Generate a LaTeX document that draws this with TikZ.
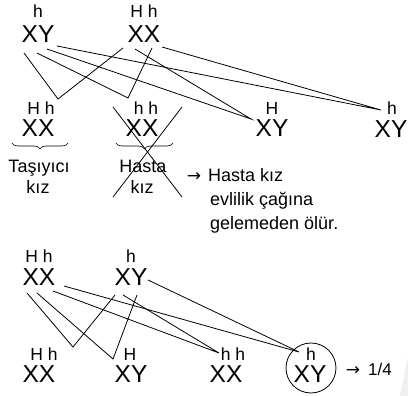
\documentclass[tikz,border=0pt]{standalone}
\usepackage{fontspec}
\setmainfont{Liberation Sans}
\newfontfamily\arrowfont{DejaVu Sans}
\usetikzlibrary{decorations.pathreplacing}
\begin{document}
\begin{tikzpicture}[x=1pt,y=-1pt,
  chrom/.style={anchor=base,inner sep=0pt,font=\fontsize{24.5}{24}\selectfont},
  gene/.style={anchor=base,inner sep=0pt,font=\fontsize{17.5}{17}\selectfont},
  lbl/.style={anchor=base,inner sep=0pt,font=\fontsize{18}{18}\selectfont},
  lblw/.style={anchor=base west,inner sep=0pt,font=\fontsize{18}{18}\selectfont},
  arr/.style={anchor=base,inner sep=0pt,font=\arrowfont\fontsize{17}{17}\selectfont},
  cross/.style={line width=0.8pt},
  link/.style={line width=0.8pt},
  bracestyle/.style={line width=0.6pt,decorate,decoration={brace,mirror,amplitude=6pt}}]
\useasboundingbox (0,0) rectangle (408,396);
\fill[black!6] (400,396) -- (408,356) -- (408,396) -- cycle;
% top parents
\node[gene] (g1) at (38,18) {h};
\node[chrom] (p1) at (38,43) {XY};
\node[gene] (g2) at (144,18) {H h};
\node[chrom] (p2) at (144,43) {XX};
% first offspring row
\node[gene] (g3) at (41,115) {H h};
\node[chrom] (c1) at (38,137) {XX};
\node[gene] (g4) at (146,115) {h h};
\node[chrom] (c2) at (142,137) {XX};
\node[gene] (g5) at (272,115) {H};
\node[chrom] (c3) at (272,137) {XY};
\node[gene] (g6) at (392,115) {h};
\node[chrom] (c4) at (391,138) {XY};
% labels
\node[lbl] (t1) at (39,173) {Taşıyıcı};
\node[lbl] (t2) at (38,194) {kız};
\node[lbl] (t3) at (143,173) {Hasta};
\node[lbl] (t4) at (142,194) {kız};
\draw[bracestyle] (12,143) -- (68,143);
\draw[bracestyle] (116,143) -- (173,143);
\coordinate (x1) at (113,107); \coordinate (x2) at (182,197);
\coordinate (x3) at (182,107); \coordinate (x4) at (113,197);
\draw[cross] (x1) -- (x2);
\draw[cross] (x3) -- (x4);
\node[arr] (ar1) at (194,182) {→};
\node[lblw] (h1) at (208,182) {Hasta kız};
\node[lblw] (h2) at (210,206) {evlilik çağına};
\node[lblw] (h3) at (210,230) {gelemeden ölür.};
% top connectors
\coordinate (a1) at (24,53); \coordinate (a2) at (37,53);
\coordinate (a3) at (47,49); \coordinate (a4) at (57,46);
\coordinate (b1) at (123,48); \coordinate (b2) at (152,48);
\coordinate (b3) at (135,49); \coordinate (b4) at (162,47);
\coordinate (v1) at (58,99); \coordinate (v2) at (128,98);
\coordinate (v3) at (251,119); \coordinate (v4) at (381,110);
\draw[link] (a1) -- (v1) -- (b1);
\draw[link] (a2) -- (v2) -- (b2);
\draw[link] (a3) -- (v3) -- (b3);
\draw[link] (a4) -- (v4) -- (b4);
% bottom parents
\node[gene] (g7) at (39,262) {H h};
\node[chrom] (p3) at (39,286) {XX};
\node[gene] (g8) at (131,262) {h};
\node[chrom] (p4) at (131,286) {XY};
% bottom offspring
\node[gene] (g9) at (44,360) {H h};
\node[chrom] (c5) at (39,383) {XX};
\node[gene] (g10) at (130,360) {H};
\node[chrom] (c6) at (131,383) {XY};
\node[gene] (g11) at (233,360) {h h};
\node[chrom] (c7) at (226,383) {XX};
\node[gene] (g12) at (311,360) {h};
\node[chrom] (c8) at (310,383) {XY};
\node[draw,circle,line width=0.8pt,minimum size=50pt,inner sep=0pt] (circ) at (311,368) {};
\node[arr] (ar2) at (353,375) {→};
\node[gene,font=\fontsize{17}{17}\selectfont] (q) at (380,375) {1/4};
% bottom connectors
\coordinate (d1) at (27,293); \coordinate (d2) at (37,293);
\coordinate (d3) at (53,291); \coordinate (d4) at (64,286);
\coordinate (e1) at (115,295); \coordinate (e2) at (137,295);
\coordinate (e3) at (123,295); \coordinate (e4) at (148,280);
\coordinate (w1) at (73,347); \coordinate (w2) at (113,359);
\coordinate (w3) at (219,353); \coordinate (w4) at (299,352);
\draw[link] (d1) -- (w1) -- (e1);
\draw[link] (d2) -- (w2) -- (e2);
\draw[link] (d3) -- (w3) -- (e3);
\draw[link] (d4) -- (w4) -- (e4);
\end{tikzpicture}
\end{document}
